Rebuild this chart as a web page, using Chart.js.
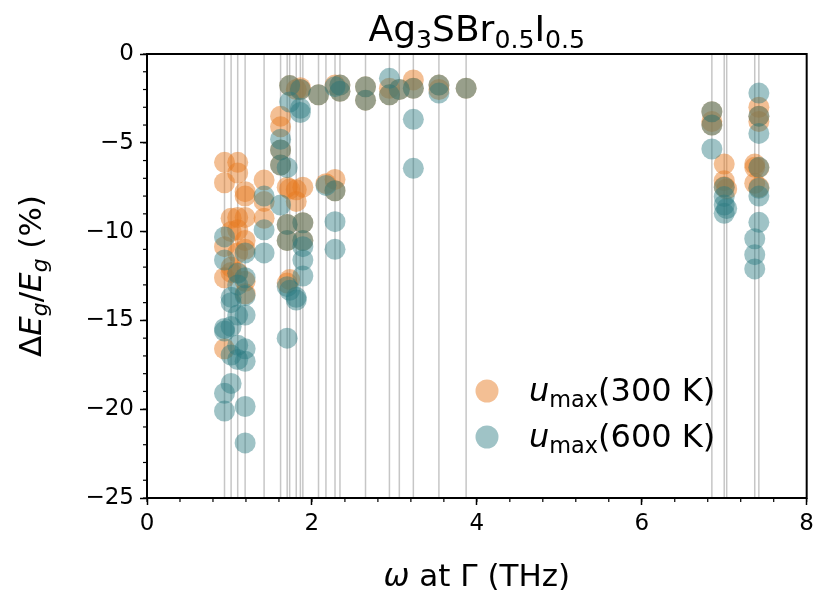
<!DOCTYPE html>
<html>
<head>
<meta charset="utf-8">
<script src="https://cdn.jsdelivr.net/npm/chart.js@4.4.0/dist/chart.umd.min.js"></script>
<style>
  html, body { margin: 0; padding: 0; background: #fff; }
  #wrap { width: 819px; height: 594px; }
</style>
</head>
<body>
<div id="wrap"><canvas id="chart" width="819" height="594"></canvas></div>
<script>
// mode frequencies at Gamma (THz) -> grey vertical lines
const modeFreqs = [0.94, 1.02, 1.10, 1.19, 1.42, 1.62, 1.70, 1.73, 1.81, 1.86, 1.89,
  2.08, 2.17, 2.28, 2.34, 2.65, 2.94, 3.06, 3.23, 3.54, 3.87,
  6.85, 7.00, 7.03, 7.37, 7.42];

// u_max(300 K)
const freq300 = [
  0.94, 0.94, 0.94, 0.94, 0.94,
  1.02, 1.02, 1.02, 1.02,
  1.10, 1.10, 1.10, 1.10, 1.10, 1.10,
  1.19, 1.19, 1.19, 1.19, 1.19, 1.19, 1.19,
  1.42, 1.42, 1.42,
  1.62, 1.62, 1.62, 1.62,
  1.70, 1.70, 1.70, 1.70,
  1.73, 1.73, 1.73,
  1.81, 1.81, 1.81,
  1.86, 1.86,
  1.89, 1.89, 1.89,
  2.08, 2.17,
  2.28, 2.28, 2.28,
  2.34, 2.34,
  2.65, 2.65,
  2.94, 2.94,
  3.06,
  3.23, 3.23,
  3.54, 3.54,
  3.87,
  6.85, 6.85, 6.85,
  7.00, 7.00, 7.00,
  7.03,
  7.37, 7.37, 7.37,
  7.42, 7.42, 7.42, 7.42, 7.42
];
const shift300 = [
  -6.1, -7.25, -10.85, -12.6, -16.6,
  -9.25, -10.0, -12.0, -12.3,
  -6.1, -6.7, -9.2, -9.9, -11.2, -12.3,
  -7.75, -8.0, -9.2, -10.5, -11.0, -12.8, -13.5,
  -7.1, -8.3, -9.25,
  -3.5, -4.1, -5.4, -6.25,
  -7.5, -9.6, -10.5, -12.9,
  -1.78, -7.6, -12.7,
  -2.0, -7.65, -8.3,
  -1.9, -2.0,
  -7.5, -9.5, -10.5,
  -2.3, -7.3,
  -1.75, -7.06, -7.7,
  -1.75, -2.1,
  -1.85, -2.6,
  -1.93, -2.3,
  -2.0,
  -1.46, -1.93,
  -1.75, -2.0,
  -1.93,
  -3.25, -3.8, -4.0,
  -6.2, -7.13, -7.47,
  -7.6,
  -6.2, -6.38, -7.28,
  -3.0, -3.5, -3.8, -6.4, -7.5
];

// u_max(600 K)
const freq600 = [
  0.94, 0.94, 0.94, 0.94, 0.94, 0.94,
  1.02, 1.02, 1.02, 1.02, 1.02,
  1.10, 1.10, 1.10, 1.10, 1.10,
  1.19, 1.19, 1.19, 1.19, 1.19, 1.19, 1.19, 1.19,
  1.42, 1.42, 1.42,
  1.62, 1.62, 1.62, 1.62,
  1.70, 1.70, 1.70, 1.70, 1.70,
  1.73, 1.73, 1.73,
  1.81, 1.81,
  1.86, 1.86, 1.86,
  1.89, 1.89, 1.89, 1.89, 1.89,
  2.08, 2.17,
  2.28, 2.28, 2.28, 2.28,
  2.34, 2.34,
  2.65, 2.65,
  2.94, 2.94,
  3.06,
  3.23, 3.23, 3.23,
  3.54, 3.54,
  3.87,
  6.85, 6.85, 6.85,
  7.00, 7.00, 7.00, 7.00,
  7.03,
  7.37, 7.37, 7.37,
  7.42, 7.42, 7.42, 7.42, 7.42, 7.42, 7.42
];
const shift600 = [
  -10.3, -11.6, -15.45, -15.6, -19.1, -20.1,
  -13.7, -14.0, -15.35, -16.95, -18.55,
  -12.35, -13.0, -14.7, -16.4, -17.2,
  -11.2, -12.6, -13.6, -14.7, -16.6, -17.3, -19.85, -21.9,
  -8.0, -9.9, -11.2,
  -4.8, -5.4, -6.25, -8.5,
  -6.4, -9.6, -10.5, -13.1, -16.0,
  -1.78, -2.7, -13.3,
  -13.7, -13.85,
  -2.0, -3.06, -3.3,
  -9.5, -10.5, -10.85, -11.6, -12.5,
  -2.3, -7.4,
  -1.84, -7.7, -9.44, -11.0,
  -1.75, -2.1,
  -1.85, -2.6,
  -1.37, -2.3,
  -2.0,
  -1.93, -3.68, -6.44,
  -1.75, -2.2,
  -1.93,
  -3.25, -4.0, -5.35,
  -7.5, -8.03, -8.5, -8.97,
  -8.7,
  -10.4, -11.3, -12.1,
  -2.2, -3.5, -4.47, -6.38, -7.56, -8.0, -9.48
];

const xTicks = [0, 2, 4, 6, 8];
const yTicks = [-25, -20, -15, -10, -5, 0];

const ORANGE = "rgba(230, 122, 32, 0.48)";
const TEAL = "rgba(42, 123, 128, 0.45)";
const FONT = "'DejaVu Sans', sans-serif";

// draw text with sub/italic pieces
function richWidth(ctx, parts, size) {
  let w = 0;
  parts.forEach(p => {
    const s = p.sub ? size * 0.7 : size;
    ctx.font = (p.it ? "italic " : "") + s + "px " + FONT;
    w += ctx.measureText(p.t).width;
  });
  return w;
}
function drawRich(ctx, parts, x, y, size, align) {
  let w = richWidth(ctx, parts, size);
  let cx = align === "center" ? x - w / 2 : x;
  ctx.textAlign = "left";
  ctx.textBaseline = "alphabetic";
  ctx.fillStyle = "#000";
  parts.forEach(p => {
    const s = p.sub ? size * 0.7 : size;
    ctx.font = (p.it ? "italic " : "") + s + "px " + FONT;
    ctx.fillText(p.t, cx, p.sub ? y + size * 0.2 : y);
    cx += ctx.measureText(p.t).width;
  });
}

const decorPlugin = {
  id: "decor",
  beforeDatasetsDraw(chart) {
    const { ctx, chartArea, scales } = chart;
    ctx.save();
    ctx.strokeStyle = "rgba(160,160,160,0.6)";
    ctx.lineWidth = 1.5;
    modeFreqs.forEach(f => {
      const px = scales.x.getPixelForValue(f);
      ctx.beginPath();
      ctx.moveTo(px, chartArea.top);
      ctx.lineTo(px, chartArea.bottom);
      ctx.stroke();
    });
    ctx.restore();
  },
  afterDraw(chart) {
    const { ctx, chartArea, scales } = chart;
    ctx.save();
    // frame
    ctx.strokeStyle = "#000";
    ctx.lineWidth = 2;
    ctx.strokeRect(chartArea.left, chartArea.top, chartArea.right - chartArea.left, chartArea.bottom - chartArea.top);
    // minor ticks
    ctx.lineWidth = 1.2;
    for (let v = 0; v <= 8.001; v += 0.4) {
      const px = scales.x.getPixelForValue(v);
      ctx.beginPath();
      ctx.moveTo(px, chartArea.bottom);
      ctx.lineTo(px, chartArea.bottom + 4);
      ctx.stroke();
    }
    for (let v = -25; v <= 0; v += 1) {
      const py = scales.y.getPixelForValue(v);
      ctx.beginPath();
      ctx.moveTo(chartArea.left, py);
      ctx.lineTo(chartArea.left - 4, py);
      ctx.stroke();
    }
    // title
    const cx = (chartArea.left + chartArea.right) / 2;
    drawRich(ctx, [{ t: "Ag" }, { t: "3", sub: true }, { t: "SBr" }, { t: "0.5", sub: true }, { t: "I" }, { t: "0.5", sub: true }], cx, 41, 36, "center");
    // x label
    drawRich(ctx, [{ t: "ω", it: true }, { t: " at Γ (THz)" }], cx, 586, 31, "center");
    // y label
    ctx.save();
    ctx.translate(41, (chartArea.top + chartArea.bottom) / 2);
    ctx.rotate(-Math.PI / 2);
    drawRich(ctx, [{ t: "Δ" }, { t: "E", it: true }, { t: "g", it: true, sub: true }, { t: "/" }, { t: "E", it: true }, { t: "g", it: true, sub: true }, { t: " (%)" }], 0, 0, 31, "center");
    ctx.restore();
    // legend
    const items = [[ORANGE, "(300 K)", 391], [TEAL, "(600 K)", 437]];
    items.forEach(([col, txt, ly]) => {
      ctx.fillStyle = col;
      ctx.beginPath();
      ctx.arc(487, ly, 11.5, 0, Math.PI * 2);
      ctx.fill();
      drawRich(ctx, [{ t: "u", it: true }, { t: "max", sub: true }, { t: txt }], 529, ly + 10, 32, "left");
    });
    ctx.restore();
  }
};

new Chart(document.getElementById("chart"), {
  type: "scatter",
  data: {
    datasets: [
      {
        label: "u_max(300 K)",
        data: freq300.map((f, i) => ({ x: f, y: shift300[i] })),
        backgroundColor: ORANGE,
        borderWidth: 0,
        pointRadius: 10.5,
        order: 2
      },
      {
        label: "u_max(600 K)",
        data: freq600.map((f, i) => ({ x: f, y: shift600[i] })),
        backgroundColor: TEAL,
        borderWidth: 0,
        pointRadius: 10.5,
        order: 1
      }
    ]
  },
  options: {
    responsive: false,
    animation: false,
    clip: false,
    layout: { padding: { left: 0, right: 7, top: 54, bottom: 0 } },
    plugins: {
      legend: { display: false },
      tooltip: { enabled: false }
    },
    scales: {
      x: {
        type: "linear",
        min: 0,
        max: 8,
        afterBuildTicks: s => { s.ticks = xTicks.map(v => ({ value: v })); },
        afterFit: s => { s.height = 96; },
        grid: { drawOnChartArea: false, tickLength: 7, tickColor: "#000", tickWidth: 1.5 },
        border: { display: false },
        ticks: { color: "#000", padding: 5, font: { family: FONT, size: 23 } }
      },
      y: {
        type: "linear",
        min: -25,
        max: 0,
        afterBuildTicks: s => { s.ticks = yTicks.map(v => ({ value: v })); },
        afterFit: s => { s.width = 147; },
        grid: { drawOnChartArea: false, tickLength: 7, tickColor: "#000", tickWidth: 1.5 },
        border: { display: false },
        ticks: {
          color: "#000",
          padding: 6,
          font: { family: FONT, size: 23 },
          callback: v => (v < 0 ? "\u2212" + Math.abs(v) : String(v))
        }
      }
    }
  },
  plugins: [decorPlugin]
});
</script>
</body>
</html>
